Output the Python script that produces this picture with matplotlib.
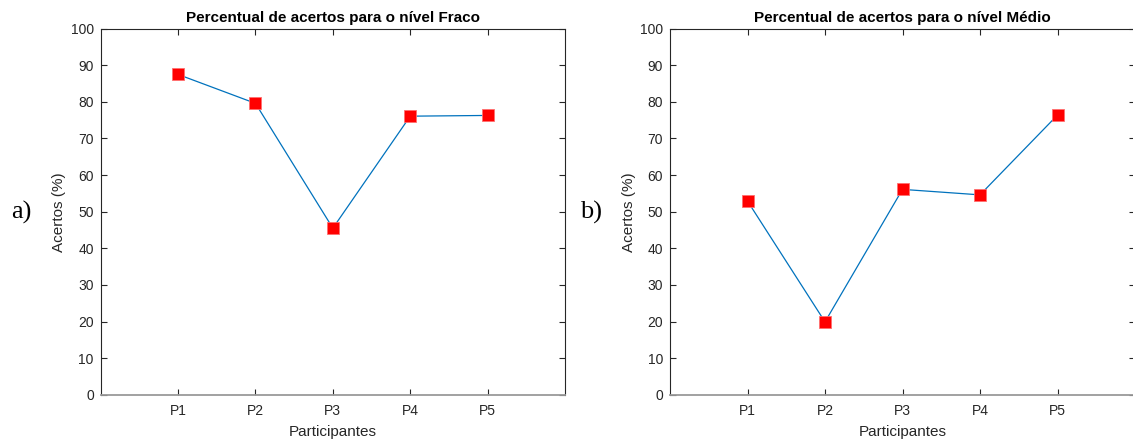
import matplotlib
matplotlib.use("Agg")
import matplotlib.pyplot as plt

participants = ["P1", "P2", "P3", "P4", "P5"]
fraco = [87.5, 79.6, 45.5, 76.1, 76.3]
medio = [52.9, 19.9, 56.1, 54.6, 76.4]
titles = ["Percentual de acertos para o nível Fraco",
          "Percentual de acertos para o nível Médio"]
panel_labels = ["a)", "b)"]
yticks = list(range(0, 101, 10))

plt.rcParams['font.family'] = ['Liberation Sans', 'DejaVu Sans']

fig = plt.figure(figsize=(11.33, 4.43), dpi=100)
W, H = 1133, 443
axes_px = [(100.7, 565.0), (670.0, 1135.0)]
top_px, bot_px = 28.7, 394.7

for i, (data, title, plabel) in enumerate(zip([fraco, medio], titles, panel_labels)):
    x0, x1 = axes_px[i]
    ax = fig.add_axes([x0 / W, (H - bot_px) / H, (x1 - x0) / W, (bot_px - top_px) / H])
    xs = list(range(1, len(participants) + 1))
    ax.plot(xs, data, color='#0072BD', lw=0.9, marker='s', markersize=8.3,
            markerfacecolor='#ff0000', markeredgecolor='#ff6f6f', markeredgewidth=0.6,
            zorder=3)
    ax.set_xlim(0, 6)
    ax.set_ylim(0, 100)
    ax.set_xticks(xs)
    ax.set_xticklabels(participants)
    ax.set_yticks(yticks)
    ax.tick_params(direction='in', top=True, right=True, length=4, width=0.8,
                   labelsize=10, colors='#262626', pad=5)
    ax.tick_params(axis='x', pad=7)
    for s in ['left', 'top', 'right']:
        ax.spines[s].set_color('#262626')
        ax.spines[s].set_linewidth(0.8)
    ax.spines['bottom'].set_color('#9a9a9a')
    ax.spines['bottom'].set_linewidth(1.3)
    ax.set_title(title, fontsize=11, fontweight='bold', color='black', pad=5)
    ax.set_xlabel("Participantes", fontsize=11, color='#262626', labelpad=5)
    ax.set_ylabel("Acertos (%)", fontsize=11, color='#262626', labelpad=3)
    fig.text((x0 - 79) / W, (H - 212) / H, plabel, fontsize=19,
             family=['Liberation Serif', 'DejaVu Serif'], ha='center', va='center')

fig.savefig("out.png", dpi=100)
